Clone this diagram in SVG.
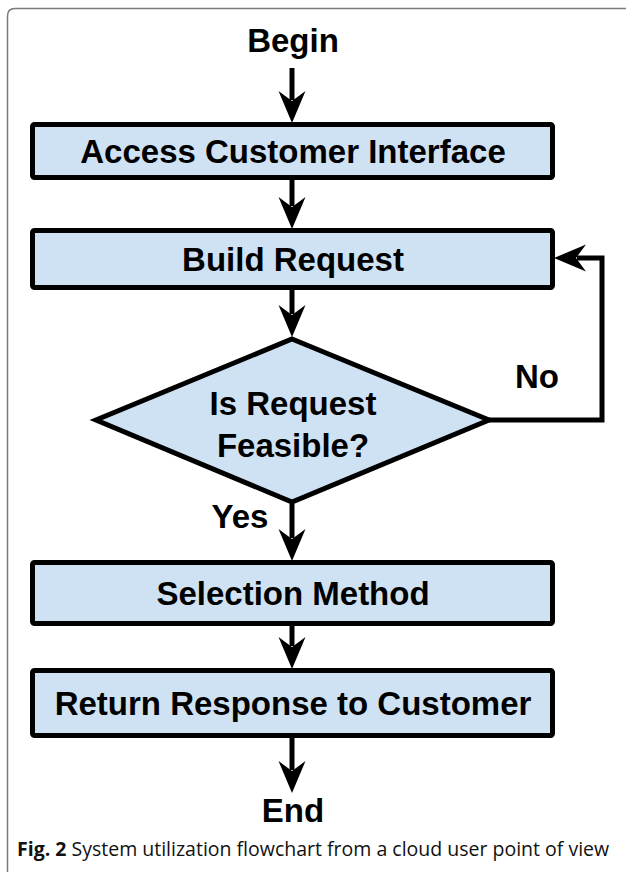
<svg xmlns="http://www.w3.org/2000/svg" width="626" height="872" viewBox="0 0 626 872">
  <style>
    .frame { fill: none; stroke: #7a7a7a; stroke-width: 1.5; }
    .box { fill: #cfe2f3; stroke: #000; stroke-width: 5; }
    .lbl { font-family: 'Liberation Sans', Arial, Helvetica, sans-serif; font-weight: 700; font-size: 33px; fill: #000; text-anchor: middle; }
    .edge { fill: none; stroke: #000; stroke-width: 5; stroke-linejoin: miter; marker-end: url(#head); }
    .caption { font-family: 'Open Sans', 'Noto Sans', sans-serif; font-size: 19.5px; fill: #111; }
  </style>
  <defs>
    <!-- barbed arrowhead; reference point sits in the notch so the shaft ends inside it -->
    <marker id="head" markerUnits="userSpaceOnUse" viewBox="-12 -15 36 30" markerWidth="36" markerHeight="30" refX="-1" refY="0" orient="auto">
      <path d="M22,0 L-10,-13.5 L0,0 L-10,13.5 Z" fill="#000"/>
    </marker>
  </defs>

  <!-- figure frame (open to the right and bottom) -->
  <path class="frame" d="M7.5,872 V16 Q7.5,8.5 15,8.5 H626"/>

  <g id="begin">
    <text class="lbl" x="293" y="52">Begin</text>
  </g>

  <g id="access">
    <rect class="box" x="32.5" y="124.5" width="520" height="53" rx="2"/>
    <text class="lbl" x="293" y="163">Access Customer Interface</text>
  </g>

  <g id="build">
    <rect class="box" x="32.5" y="230.5" width="520" height="57" rx="2"/>
    <text class="lbl" x="293" y="271">Build Request</text>
  </g>

  <g id="feasible">
    <polygon class="box" points="292,339 489,420 292,502 96,420"/>
    <text class="lbl" x="293" y="415">Is Request</text>
    <text class="lbl" x="293" y="457">Feasible?</text>
  </g>

  <g id="selection">
    <rect class="box" x="32.5" y="562.5" width="520" height="61" rx="2"/>
    <text class="lbl" x="293" y="605">Selection Method</text>
  </g>

  <g id="response">
    <rect class="box" x="32.5" y="670.5" width="520" height="65" rx="2"/>
    <text class="lbl" x="293" y="715">Return Response to Customer</text>
  </g>

  <g id="end">
    <text class="lbl" x="293" y="822">End</text>
  </g>

  <g id="connectors">
    <line class="edge" x1="292" y1="68" x2="292" y2="100"/>
    <line class="edge" x1="292" y1="180" x2="292" y2="206"/>
    <line class="edge" x1="292" y1="290" x2="292" y2="314"/>
    <line class="edge" x1="292" y1="504" x2="292" y2="538"/>
    <line class="edge" x1="292" y1="626" x2="292" y2="646"/>
    <line class="edge" x1="292" y1="738" x2="292" y2="770"/>
    <path class="edge" d="M489,420 H602 V258 H577"/>
    <text class="lbl" x="537" y="388">No</text>
    <text class="lbl" x="240" y="528">Yes</text>
  </g>

  <text class="caption" x="17" y="856"><tspan font-weight="bold">Fig. 2</tspan> System utilization flowchart from a cloud user point of view</text>
</svg>
